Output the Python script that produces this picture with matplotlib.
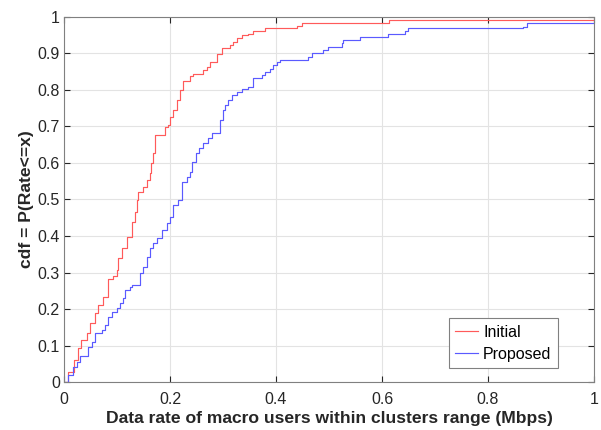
import matplotlib
matplotlib.use("Agg")
import matplotlib.pyplot as plt

# digitized empirical cdf corners (x in Mbps, cdf value)
initial_x = [0.0, 0.002, 0.008, 0.018, 0.027, 0.033, 0.043, 0.049, 0.058, 0.065,
             0.074, 0.083, 0.092, 0.100, 0.102, 0.109, 0.119, 0.128, 0.134, 0.138,
             0.140, 0.149, 0.156, 0.162, 0.164, 0.168, 0.172, 0.191, 0.196, 0.200,
             0.206, 0.213, 0.219, 0.225, 0.238, 0.243, 0.262, 0.270, 0.275, 0.289,
             0.298, 0.313, 0.319, 0.326, 0.336, 0.347, 0.357, 0.379, 0.440, 0.449,
             0.613, 1.0]
initial_y = [0.0, 0.0, 0.028, 0.060, 0.093, 0.115, 0.134, 0.162, 0.189, 0.211,
             0.233, 0.282, 0.290, 0.307, 0.340, 0.367, 0.397, 0.438, 0.466, 0.499,
             0.521, 0.534, 0.553, 0.573, 0.600, 0.627, 0.677, 0.699, 0.704, 0.726,
             0.745, 0.773, 0.800, 0.825, 0.838, 0.844, 0.855, 0.863, 0.877, 0.899,
             0.915, 0.923, 0.932, 0.942, 0.951, 0.953, 0.962, 0.970, 0.975, 0.984,
             0.992, 0.992]

proposed_x = [0.0, 0.002, 0.008, 0.017, 0.025, 0.030, 0.045, 0.053, 0.058, 0.072,
              0.077, 0.083, 0.091, 0.100, 0.106, 0.111, 0.115, 0.125, 0.128, 0.143,
              0.149, 0.157, 0.162, 0.168, 0.175, 0.185, 0.194, 0.200, 0.206, 0.215,
              0.223, 0.232, 0.238, 0.242, 0.249, 0.255, 0.262, 0.272, 0.279, 0.294,
              0.300, 0.304, 0.309, 0.317, 0.326, 0.336, 0.347, 0.357, 0.374, 0.379,
              0.389, 0.394, 0.402, 0.408, 0.460, 0.468, 0.489, 0.498, 0.525, 0.526,
              0.558, 0.611, 0.643, 0.649, 0.866, 0.874, 1.0]
proposed_y = [0.0, 0.0, 0.019, 0.041, 0.055, 0.071, 0.096, 0.110, 0.134, 0.142,
              0.156, 0.178, 0.192, 0.203, 0.216, 0.230, 0.252, 0.260, 0.266, 0.299,
              0.315, 0.342, 0.367, 0.381, 0.395, 0.416, 0.436, 0.452, 0.485, 0.499,
              0.548, 0.562, 0.575, 0.603, 0.627, 0.641, 0.655, 0.668, 0.682, 0.718,
              0.745, 0.759, 0.773, 0.786, 0.795, 0.803, 0.808, 0.833, 0.841, 0.849,
              0.858, 0.868, 0.877, 0.882, 0.890, 0.901, 0.910, 0.918, 0.929, 0.937,
              0.945, 0.953, 0.962, 0.970, 0.973, 0.984, 0.984]

plt.rcParams['font.family'] = ['Liberation Sans', 'DejaVu Sans']

fig = plt.figure(figsize=(6.01, 4.30), dpi=100)
ax = fig.add_axes([0.1065, 0.1116, 0.8819, 0.8489])

ax.plot(initial_x, initial_y, drawstyle='steps-post', color='#ff5a5a', lw=0.85, label='Initial')
ax.plot(proposed_x, proposed_y, drawstyle='steps-post', color='#5a5aff', lw=0.85, label='Proposed')

ax.set_xlim(0, 1)
ax.set_ylim(0, 1)
ax.set_xticks([0, 0.2, 0.4, 0.6, 0.8, 1])
ax.set_xticklabels(['0', '0.2', '0.4', '0.6', '0.8', '1'])
ax.set_yticks([i / 10 for i in range(11)])
ax.set_yticklabels(['0'] + ['0.%d' % i for i in range(1, 10)] + ['1'])
ax.grid(True, color='#e3e3e3', lw=0.8)
ax.set_axisbelow(True)
ax.tick_params(direction='in', top=True, right=True, labelsize=11.5, colors='#262626',
               length=4, width=0.8, pad=3)
ax.tick_params(axis='x', pad=7)
for s in ax.spines.values():
    s.set_color('#808080')
    s.set_linewidth(0.8)

ax.set_xlabel('Data rate of macro users within clusters range (Mbps)', fontsize=12.6,
              fontweight='bold', color='#262626', labelpad=3)
ax.set_ylabel('cdf = P(Rate<=x)', fontsize=12.6, fontweight='bold', color='#262626',
              labelpad=2.5)

leg = ax.legend(loc='lower right', bbox_to_anchor=(0.932, 0.038), fontsize=11.5,
                fancybox=False, edgecolor='#808080', framealpha=1,
                handlelength=1.45, handletextpad=0.3, borderpad=0.4,
                labelspacing=0.45, borderaxespad=0)
leg.get_frame().set_linewidth(0.8)

fig.savefig('out.png', dpi=100)
